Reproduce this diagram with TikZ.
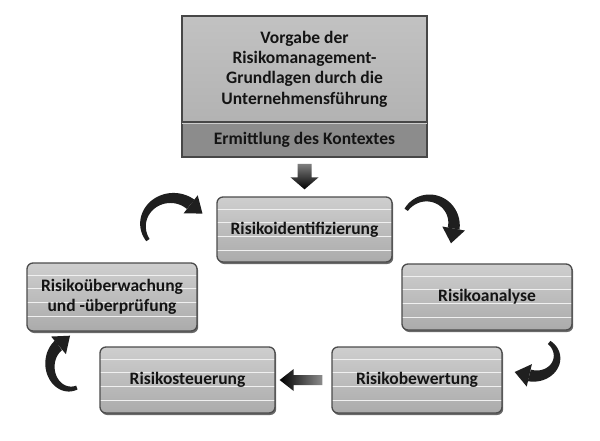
\documentclass[tikz,border=0pt]{standalone}
\usepackage{fontspec}
\setmainfont{Carlito}
\usetikzlibrary{calc,shadows}
\newcommand\BoxFont{\fontsize{17.5}{20.3}\selectfont\bfseries}
\newcommand\CurvArrow[6]{% cx cy rx ry t0 t1
  \pgfmathsetmacro\caW{(#6)-(#5)}
  \fill[arrowfill] plot[domain=#5:#6, samples=40, variable=\t]
    ({#1+(#3+(2+4*(\t-(#5))/\caW))*cos(\t)},{#2+(#4+(2+4*(\t-(#5))/\caW))*sin(\t)})
    -- plot[domain=#6:#5, samples=40, variable=\t]
    ({#1+(#3-(2+4*(\t-(#5))/\caW))*cos(\t)},{#2+(#4-(2+4*(\t-(#5))/\caW))*sin(\t)}) -- cycle;
  \pgfmathsetmacro\caBx{#1+#3*cos(#6)}
  \pgfmathsetmacro\caBy{#2+#4*sin(#6)}
  \pgfmathsetmacro\caDx{-#3*sin(#6)}
  \pgfmathsetmacro\caDy{#4*cos(#6)}
  \pgfmathsetmacro\caL{sqrt(\caDx*\caDx+\caDy*\caDy)}
  \pgfmathsetmacro\caUx{\caDx/\caL}
  \pgfmathsetmacro\caUy{\caDy/\caL}
  \fill[arrowfill] ({\caBx-\caUy*11.5},{\caBy+\caUx*11.5}) -- ({\caBx+\caUy*11.5},{\caBy-\caUx*11.5})
    -- ({\caBx+\caUx*15},{\caBy+\caUy*15}) -- cycle;
}
\tikzset{
  procbox/.style={rounded corners=6pt, draw=black!70, line width=1.3pt,
    top color=black!19, bottom color=black!33,
    drop shadow={shadow xshift=1.2pt, shadow yshift=-2pt, fill=black!65, opacity=0.9},
    align=center, inner sep=0pt, font=\BoxFont, text=black!92,
    path picture={\foreach \d in {12,25.5,39.5,53}{\draw[white!94!black, line width=1pt]
      ([yshift=-\d pt]path picture bounding box.north west) -- ([yshift=-\d pt]path picture bounding box.north east);}}},
  topbox/.style={draw=black!72, line width=1.5pt, top color=black!24, bottom color=black!30,
    align=center, inner sep=0pt, font=\BoxFont, text=black!92},
  ctxbox/.style={draw=black!72, line width=1.5pt, fill=black!45,
    align=center, inner sep=0pt, font=\BoxFont, text=black!92},
  arrowfill/.style={fill=black!88},
}
\begin{document}
\begin{tikzpicture}[x=1pt,y=-1pt]
\useasboundingbox[fill=white] (0,0) rectangle (600,440);

% top box
\node[topbox, minimum width=245pt, minimum height=106pt] (top) at (304.5,69)
  {Vorgabe der\\Risikomanagement-\\Grundlagen durch die\\Unternehmensführung};
\node[ctxbox, minimum width=245pt, minimum height=35pt] (ctx) at (304.5,139.5)
  {Ermittlung des Kontextes};
\draw[white!80!black, line width=1.2pt] ($(ctx.north west)+(1,2)$) -- ($(ctx.north east)+(-1,2)$);

% process boxes
\node[procbox, minimum width=175pt, minimum height=65pt] (ident) at (304.5,229.5) {Risikoidentifizierung};
\node[procbox, minimum width=170pt, minimum height=66pt] (analyse) at (487,297) {Risikoanalyse};
\node[procbox, minimum width=170pt, minimum height=66pt] (bew) at (417,380) {Risikobewertung};
\node[procbox, minimum width=175pt, minimum height=66pt] (steu) at (187.5,380) {Risikosteuerung};
\node[procbox, minimum width=170pt, minimum height=68pt] (ueber) at (112,297) {Risikoüberwachung\\und -überprüfung};

% straight block arrows
\shade[top color=black!50, bottom color=black]
  ($(ctx.south)+(-7,6)$) -- ($(ctx.south)+(7,6)$) -- ($(ident.north)+(7,-19)$) -- ($(ident.north)+(14,-19)$)
  -- ($(ident.north)+(0,-7)$) -- ($(ident.north)+(-14,-19)$) -- ($(ident.north)+(-7,-19)$) -- cycle;
\shade[left color=black, right color=black!45]
  ($(bew.west)+(-9,-5)$) -- ($(bew.west)+(-9,5)$) -- ($(steu.east)+(18,5)$) -- ($(steu.east)+(18,11)$)
  -- ($(steu.east)+(4,0)$) -- ($(steu.east)+(18,-11)$) -- ($(steu.east)+(18,-5)$) -- cycle;

% curved arrows
\CurvArrow{172}{225}{29}{27}{146}{310}
\CurvArrow{428}{224}{26}{26}{213}{370}
\CurvArrow{535}{357}{22}{19}{-50}{105}
\CurvArrow{70}{365}{20}{24}{70}{235}
\end{tikzpicture}
\end{document}
